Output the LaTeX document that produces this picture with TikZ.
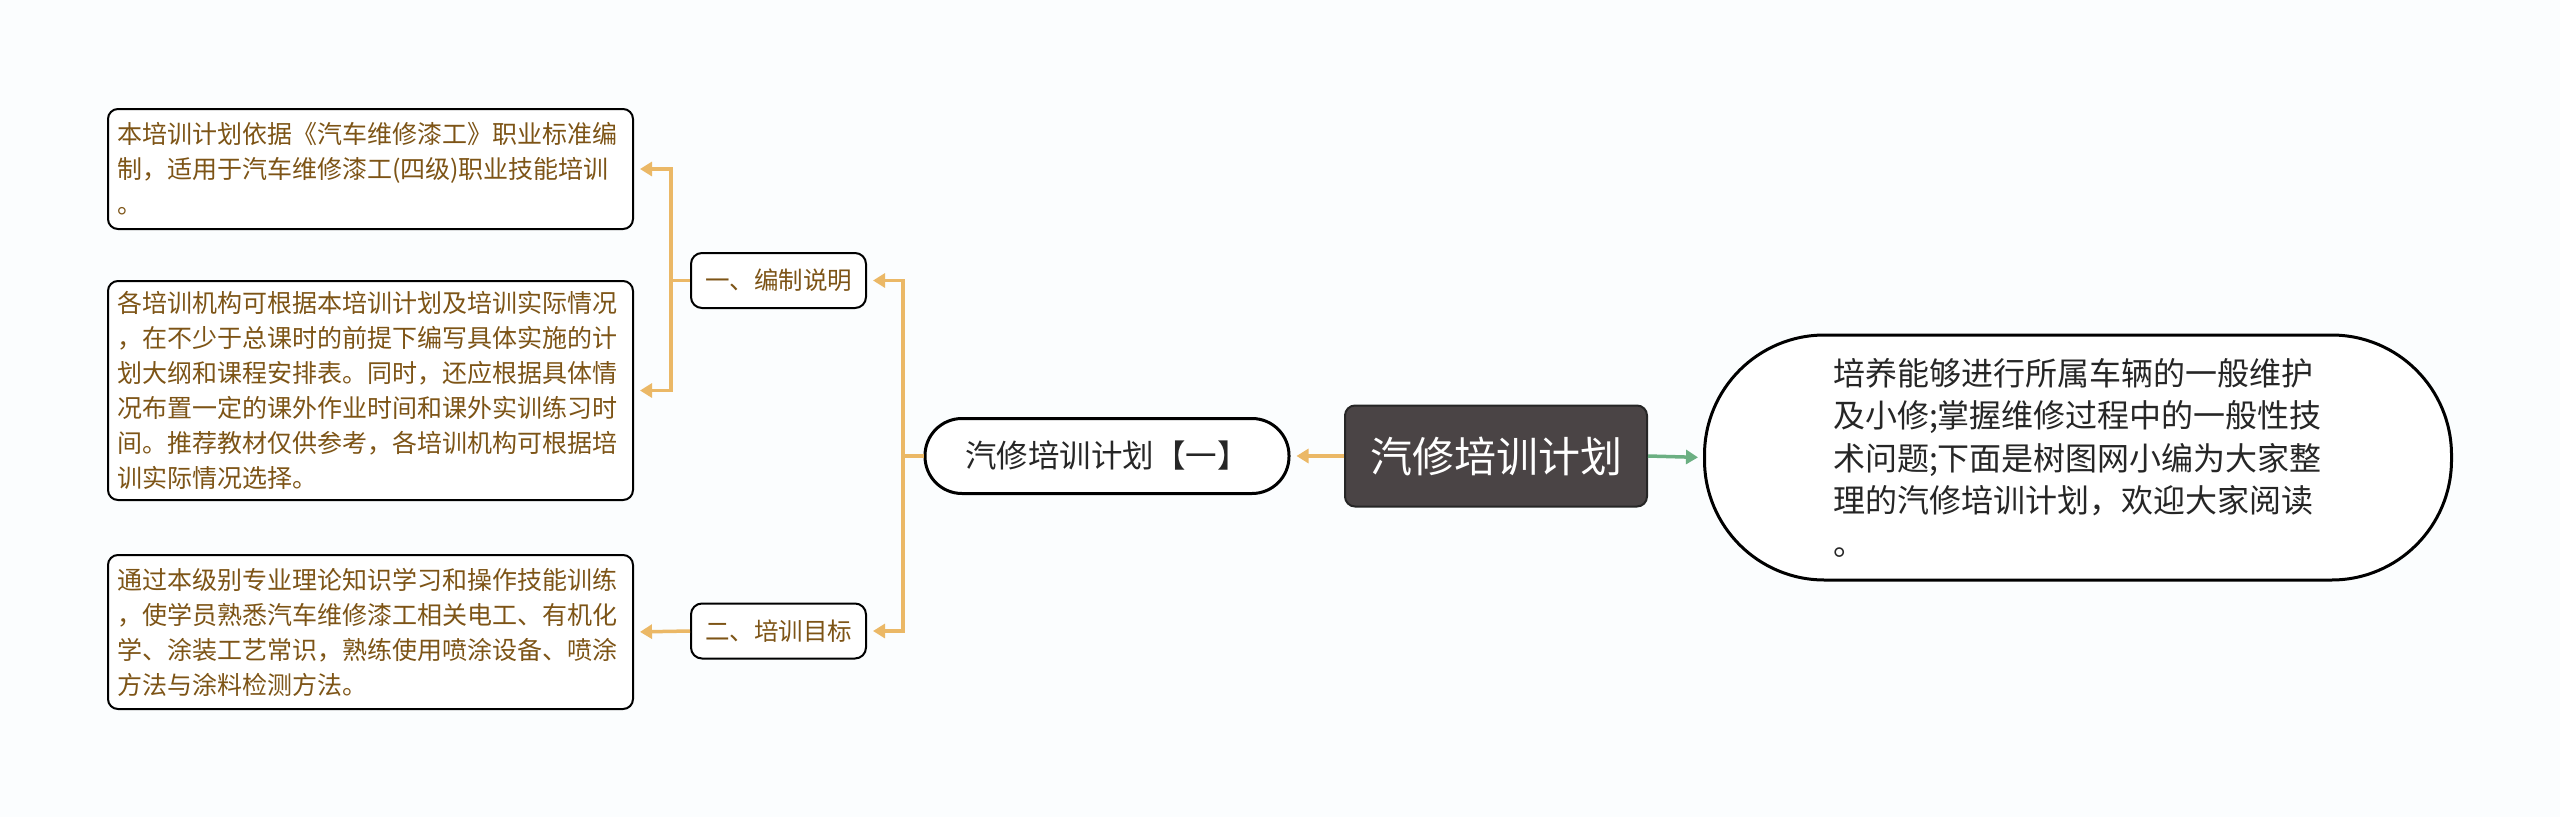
\documentclass[tikz,border=0pt]{standalone}
\usepackage{fontspec}
\setmainfont{Noto Sans CJK SC}
\usetikzlibrary{arrows.meta}
\definecolor{bgc}{HTML}{FBFDFE}
\definecolor{org}{HTML}{EBB866}
\definecolor{grn}{HTML}{6BAF82}
\definecolor{brn}{HTML}{7D5416}
\definecolor{rootc}{HTML}{4A4445}
\definecolor{txt}{HTML}{262626}
\begin{document}
\begin{tikzpicture}[x=1pt,y=-1pt,
  leaf/.style={draw=black, line width=2pt, rounded corners=10pt, fill=white, text=brn,
    font=\fontsize{25}{35}\selectfont, align=left, text width=507pt, inner xsep=9pt, inner ysep=4pt},
  mid/.style={draw=black, line width=2pt, rounded corners=11pt, fill=white, text=brn,
    font=\fontsize{24.5}{30}\selectfont, minimum width=175pt, minimum height=55pt, inner sep=0pt},
  pillbox/.style={draw=black, line width=3pt, rounded corners=37pt, fill=white, text=txt,
    font=\fontsize{31.5}{36}\selectfont, minimum width=364pt, minimum height=75pt, inner sep=0pt},
  rootbox/.style={draw=black!85, line width=2pt, rounded corners=10pt, fill=rootc, text=white,
    font=\fontsize{42}{50}\selectfont, minimum width=302pt, minimum height=101pt, inner sep=0pt},
  bigpill/.style={draw=black, line width=3pt, rounded corners=120pt, fill=white, text=txt,
    font=\fontsize{32}{42.5}\selectfont, align=left, text width=490pt,
    minimum width=747pt, minimum height=245pt, inner sep=0pt},
  oline/.style={draw=org, line width=3.5pt},
  oarrow/.style={oline, -{Triangle[length=12pt,width=14pt]}, shorten >=6pt},
  garrow/.style={draw=grn, line width=3.5pt, -{Triangle[length=12pt,width=14pt]}, shorten >=5pt}
]
\useasboundingbox[fill=bgc] (0,0) rectangle (2560,817);

\node[leaf, minimum height=120pt] (b1) at (370.5,169) {本培训计划依据《汽车维修漆工》职业标准编\\制，适用于汽车维修漆工(四级)职业技能培训\\。};
\node[leaf, minimum height=219pt] (b2) at (370.5,390.5) {各培训机构可根据本培训计划及培训实际情况\\，在不少于总课时的前提下编写具体实施的计\\划大纲和课程安排表。同时，还应根据具体情\\况布置一定的课外作业时间和课外实训练习时\\间。推荐教材仅供参考，各培训机构可根据培\\训实际情况选择。};
\node[leaf, minimum height=154pt] (b3) at (370.5,632) {通过本级别专业理论知识学习和操作技能训练\\，使学员熟悉汽车维修漆工相关电工、有机化\\学、涂装工艺常识，熟练使用喷涂设备、喷涂\\方法与涂料检测方法。};

\node[mid] (n1) at (778.5,280.5) {一、编制说明};
\node[mid] (n2) at (778.5,631) {二、培训目标};

\node[pillbox] (pill) at (1107,456) {汽修培训计划【一】};
\node[rootbox] (root) at (1496,456) {汽修培训计划};
\node[bigpill] (rt) at (2078,457.5) {培养能够进行所属车辆的一般维护\\及小修;掌握维修过程中的一般性技\\术问题;下面是树图网小编为大家整\\理的汽修培训计划，欢迎大家阅读\\。};

\coordinate (j1) at (903,456);
\coordinate (j2) at (671,280.5);

\draw[oarrow] (root.west) -- (pill.east);
\draw[garrow] (root.east) -- (rt.west);
\draw[oline] (pill.west) -- (j1);
\draw[oarrow] (j1) |- (n1.east);
\draw[oarrow] (j1) |- (n2.east);
\draw[oline] (n1.west) -- (j2);
\draw[oarrow] (j2) |- (b1.east);
\draw[oarrow] (j2) |- (b2.east);
\draw[oarrow] (n2.west) -- (b3.east);
\end{tikzpicture}
\end{document}
